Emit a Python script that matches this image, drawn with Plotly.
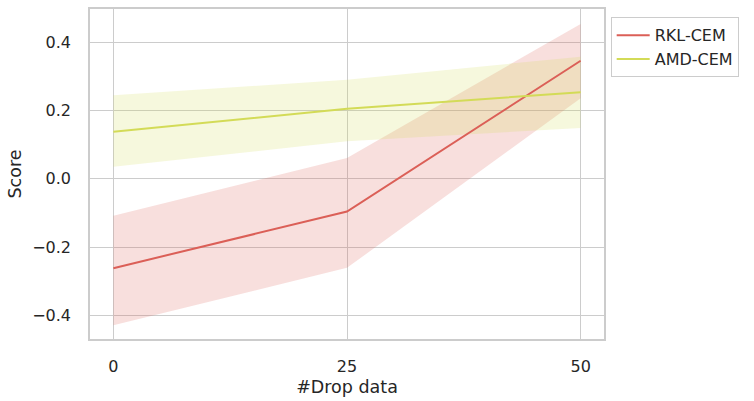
import plotly.graph_objects as go

x_vals = [0, 25, 50]
rkl_mean = [-0.262, -0.096, 0.346]
rkl_upper = [-0.108, 0.061, 0.454]
rkl_lower = [-0.429, -0.261, 0.236]
amd_mean = [0.138, 0.205, 0.254]
amd_upper = [0.245, 0.290, 0.358]
amd_lower = [0.035, 0.110, 0.149]
series_names = ["RKL-CEM", "AMD-CEM"]
y_ticks = [-0.4, -0.2, 0.0, 0.2, 0.4]
y_ticktext = ["\u22120.4", "\u22120.2", "0.0", "0.2", "0.4"]
x_ticks = [0, 25, 50]

RED = "#db5f57"
YEL = "#d3db57"

fig = go.Figure()

def add_band(lower, upper, color_rgba):
    fig.add_trace(go.Scatter(x=x_vals, y=upper, mode="lines", line=dict(width=0),
                             showlegend=False, hoverinfo="skip"))
    fig.add_trace(go.Scatter(x=x_vals, y=lower, mode="lines", line=dict(width=0),
                             fill="tonexty", fillcolor=color_rgba,
                             showlegend=False, hoverinfo="skip"))

add_band(rkl_lower, rkl_upper, "rgba(219,95,87,0.2)")
add_band(amd_lower, amd_upper, "rgba(211,219,87,0.2)")

fig.add_trace(go.Scatter(x=x_vals, y=rkl_mean, mode="lines", name=series_names[0],
                         line=dict(color=RED, width=2)))
fig.add_trace(go.Scatter(x=x_vals, y=amd_mean, mode="lines", name=series_names[1],
                         line=dict(color=YEL, width=2)))

font_family = "DejaVu Sans"
fig.update_layout(
    width=754, height=401,
    margin=dict(l=90, r=150, t=7, b=61),
    paper_bgcolor="white", plot_bgcolor="white",
    font=dict(family=font_family, size=16, color="#262626"),
    legend=dict(x=1.013, y=0.975, xanchor="left", yanchor="top",
                traceorder="normal", itemwidth=33,
                bordercolor="#cccccc", borderwidth=1, bgcolor="white",
                font=dict(size=16, color="#262626"), tracegroupgap=0),
    xaxis=dict(range=[-2.5, 52.5], tickvals=x_ticks, ticktext=[str(v) for v in x_ticks],
               showgrid=True, gridcolor="#cccccc", gridwidth=1,
               showline=True, linecolor="#cccccc", linewidth=1.5, mirror=True,
               zeroline=False, ticks="", ticklabelstandoff=12,
               title=dict(text="#Drop data", font=dict(size=17.5), standoff=6)),
    yaxis=dict(range=[-0.4696, 0.4977], tickvals=y_ticks, ticktext=y_ticktext,
               showgrid=True, gridcolor="#cccccc", gridwidth=1,
               showline=True, linecolor="#cccccc", linewidth=1.5, mirror=True,
               zeroline=False, ticks="", ticklabelstandoff=14,
               title=dict(text="Score", font=dict(size=17.5), standoff=6)),
)

fig.write_html("out.html")
